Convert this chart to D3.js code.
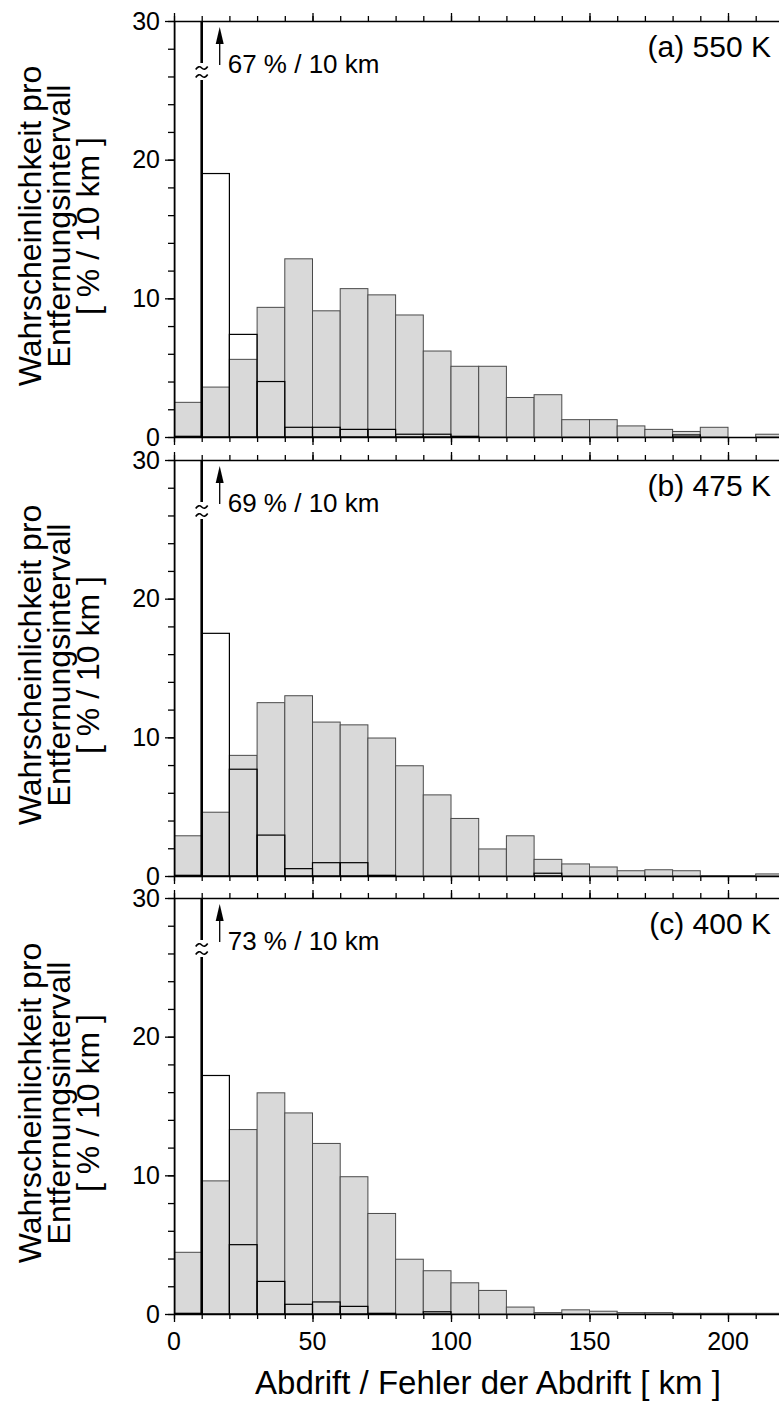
<!DOCTYPE html>
<html>
<head>
<meta charset="utf-8">
<script src="https://cdn.jsdelivr.net/npm/d3@7"></script>
<style>
  body { margin: 0; background: #fff; }
  text { font-family: "Liberation Sans", Arial, sans-serif; fill: #000; }
</style>
</head>
<body>
<div id="viz"></div>
<script>
// bins of 10 km, 0 .. 220
var bins = d3.range(0, 220, 10);

// grey bars: Abdrift, white outline bars: Fehler der Abdrift
var drift550 = [2.5, 3.6, 5.6, 9.35, 12.85, 9.1, 10.7, 10.25, 8.8, 6.2, 5.1, 5.1, 2.85, 3.05, 1.25, 1.25, 0.8, 0.55, 0.4, 0.7, 0, 0.2];
var error550 = [67, 19.0, 7.4, 4.0, 0.7, 0.7, 0.55, 0.55, 0.2, 0.2, 0.05, 0, 0, 0, 0, 0, 0, 0, 0.15, 0, 0, 0];
var drift475 = [2.9, 4.6, 8.7, 12.5, 13.0, 11.1, 10.9, 9.95, 7.95, 5.85, 4.15, 1.95, 2.9, 1.2, 0.87, 0.65, 0.38, 0.45, 0.38, 0.03, 0.03, 0.15];
var error475 = [69, 17.5, 7.7, 2.95, 0.53, 0.96, 0.96, 0.05, 0, 0, 0, 0, 0, 0.2, 0, 0, 0, 0, 0, 0, 0, 0];
var drift400 = [4.45, 9.6, 13.3, 15.95, 14.5, 12.3, 9.9, 7.25, 3.95, 3.12, 2.25, 1.7, 0.5, 0.1, 0.3, 0.2, 0.1, 0.1, 0.05, 0.05, 0.05, 0.05];
var error400 = [73, 17.2, 5.0, 2.35, 0.7, 0.87, 0.55, 0.05, 0, 0.16, 0, 0, 0, 0, 0, 0, 0, 0, 0, 0, 0, 0];

var panelLabels = ["(a) 550 K", "(b) 475 K", "(c) 400 K"];
var peakLabels = ["67 % / 10 km", "69 % / 10 km", "73 % / 10 km"];
var xTickLabels = [0, 50, 100, 150, 200];
var yTickLabels = [0, 10, 20, 30];
var yTitle = ["Wahrscheinlichkeit pro", "Entfernungsintervall", "[ % / 10 km ]"];
var xTitle = "Abdrift / Fehler der Abdrift [ km ]";

var panels = [
  {drift: drift550, error: error550},
  {drift: drift475, error: error475},
  {drift: drift400, error: error400}
];

var w = 779, h = 1407;
var left = 174, right = 783.4;
var tops = [21, 460, 898];
var ph = 416;

var svg = d3.select("#viz").append("svg")
    .attr("width", w)
    .attr("height", h);

var x = d3.scaleLinear().domain([0, 220]).range([left, right]);

panels.forEach(function(p, k) {
  var top = tops[k];
  var y = d3.scaleLinear().domain([0, 30]).range([top + ph, top]);
  var g = svg.append("g");

  svg.append("clipPath").attr("id", "clip" + k)
    .append("rect").attr("x", left).attr("y", top).attr("width", right - left).attr("height", ph);

  var plot = g.append("g").attr("clip-path", "url(#clip" + k + ")");

  plot.selectAll("rect.drift")
    .data(p.drift)
    .enter()
    .append("rect")
    .attr("class", "drift")
    .attr("x", function(d, i) { return x(bins[i]); })
    .attr("width", x(10) - x(0))
    .attr("y", function(d) { return y(d); })
    .attr("height", function(d) { return y(0) - y(d); })
    .attr("fill", "#d9d9d9")
    .attr("stroke", "#4a4a4a")
    .attr("stroke-width", 1);

  plot.selectAll("rect.error")
    .data(p.error.map(function(d, i) { return {v: d, b: bins[i]}; }).filter(function(d) { return d.v > 0; }))
    .enter()
    .append("rect")
    .attr("class", "error")
    .attr("x", function(d) { return x(d.b); })
    .attr("width", x(10) - x(0))
    .attr("y", function(d) { return y(Math.min(d.v, 32)); })
    .attr("height", function(d) { return y(0) - y(Math.min(d.v, 32)); })
    .attr("fill", "none")
    .attr("stroke", "#000")
    .attr("stroke-width", function(d) { return d.v > 30 ? 2.6 : 1.2; });

  // axis break on the off-scale bar
  var bx = x(10);
  g.append("rect").attr("x", bx - 4).attr("y", top + 42).attr("width", 8).attr("height", 17).attr("fill", "#fff");
  [top + 47, top + 55].forEach(function(ty) {
    g.append("path")
      .attr("d", "M" + (bx - 6) + "," + (ty + 1.5) + " Q" + (bx - 3) + "," + (ty - 3) + " " + bx + "," + ty + " T" + (bx + 6) + "," + (ty - 1.5))
      .attr("fill", "none").attr("stroke", "#000").attr("stroke-width", 1.6);
  });

  // arrow and peak value
  var ax = x(16.5);
  g.append("line").attr("x1", ax).attr("x2", ax).attr("y1", top + 44).attr("y2", top + 18)
    .attr("stroke", "#000").attr("stroke-width", 1.3);
  g.append("path").attr("d", "M" + (ax - 4) + "," + (top + 23) + " L" + ax + "," + (top + 6) + " L" + (ax + 4) + "," + (top + 23) + " Z")
    .attr("fill", "#000");
  g.append("text").attr("x", ax + 8).attr("y", top + 52)
    .style("font-size", "26px").text(peakLabels[k]);

  g.append("text").attr("x", 771).attr("y", top + 36)
    .attr("text-anchor", "end").style("font-size", "30px").text(panelLabels[k]);

  // top and bottom axes
  var minorX = d3.range(0, 221, 10);
  [["top", top, d3.axisTop], ["bottom", top + ph, d3.axisBottom]].forEach(function(a) {
    var ga = g.append("g").attr("transform", "translate(0," + a[1] + ")");
    ga.call(a[2](x).tickValues(minorX).tickSize(5).tickSizeOuter(0).tickFormat(""));
    ga.append("g").call(a[2](x).tickValues(xTickLabels).tickSize(8).tickSizeOuter(0).tickFormat(""))
      .select(".domain").remove();
    ga.selectAll("line").attr("stroke-width", 1.3);
    ga.select(".domain").attr("stroke-width", 1.5);
  });

  // left axis
  var gy = g.append("g").attr("transform", "translate(" + left + ",0)");
  gy.call(d3.axisLeft(y).tickValues(d3.range(0, 31, 2)).tickSize(6).tickSizeOuter(0).tickFormat(""));
  var gyl = gy.append("g").call(d3.axisLeft(y).tickValues(yTickLabels).tickSize(9).tickPadding(5));
  gyl.select(".domain").remove();
  gyl.selectAll("text").style("font-size", "25px").style("font-family", "Liberation Sans, Arial, sans-serif").attr("fill", "#000");
  gy.selectAll("line").attr("stroke-width", 1.3);
  gy.select(".domain").attr("stroke-width", 1.6);

  // y title
  var cy = top + ph / 2 - 3;
  var yt = g.append("text")
    .attr("transform", "translate(41," + cy + ") rotate(-90)")
    .attr("text-anchor", "middle")
    .style("font-size", "32px");
  yTitle.forEach(function(s, i) {
    yt.append("tspan").attr("x", 0).attr("dy", i === 0 ? 0 : "0.9em").text(s);
  });
});

// x tick labels under the last panel
svg.append("g").selectAll("text")
  .data(xTickLabels)
  .enter()
  .append("text")
  .attr("x", function(d) { return x(d); })
  .attr("y", 1350)
  .attr("text-anchor", "middle")
  .style("font-size", "25px")
  .text(function(d) { return d; });

svg.append("text")
  .attr("x", 488)
  .attr("y", 1394)
  .attr("text-anchor", "middle")
  .style("font-size", "33px")
  .text(xTitle);
</script>
</body>
</html>
